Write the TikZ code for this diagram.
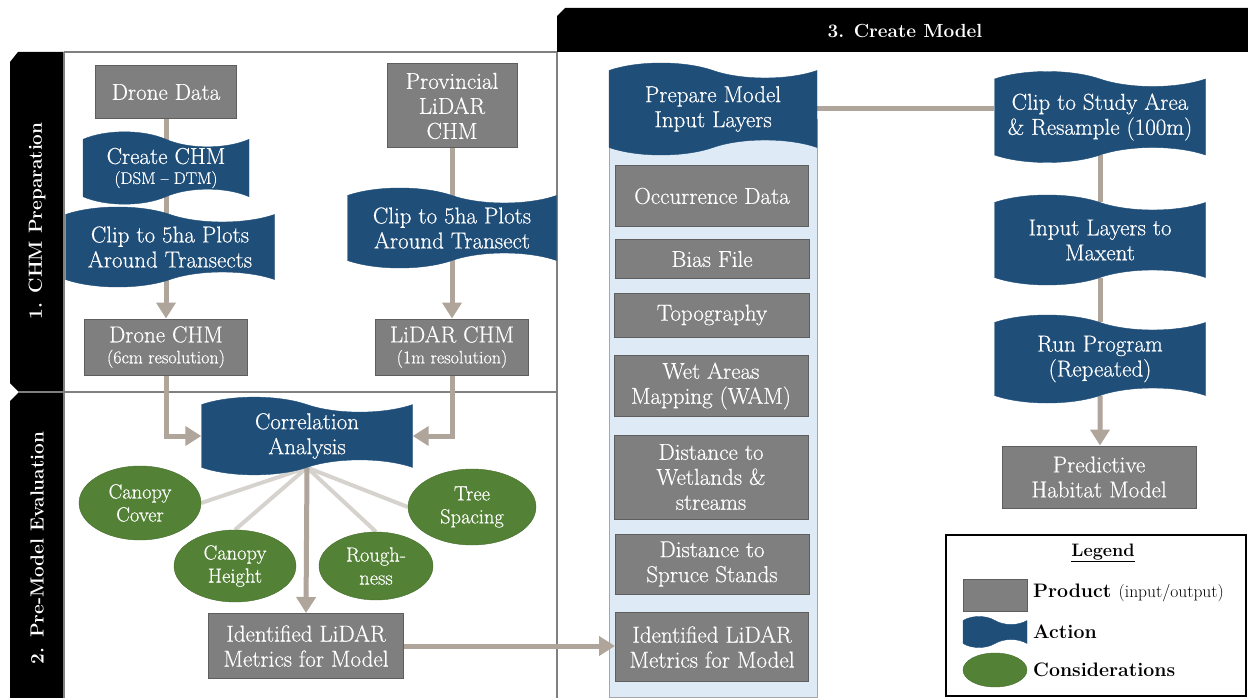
\documentclass[tikz,border=0pt]{standalone}
\usepackage{fontspec}
\newfontfamily\boxserif[FakeBold=0.5,Ligatures=TeX]{Latin Modern Roman}
\usetikzlibrary{positioning,shapes.geometric,shapes.symbols,arrows.meta,backgrounds}
\definecolor{actblue}{HTML}{1F4E79}
\definecolor{prodgray}{HTML}{7F7F7F}
\definecolor{prodedge}{HTML}{5E5E5E}
\definecolor{congreen}{HTML}{538135}
\definecolor{flowtan}{HTML}{AFA59B}
\definecolor{spokegray}{HTML}{D6D2CE}
\definecolor{colblue}{HTML}{DEEBF7}
\definecolor{framegray}{HTML}{808080}
\pgfdeclarelayer{frames}
\pgfdeclarelayer{links}
\pgfsetlayers{frames,links,main}

\begin{document}
\begin{tikzpicture}[x=1pt,y=-1pt,
 product/.style={draw=prodedge, line width=1pt, fill=prodgray, text=white,
   align=center, inner sep=1pt, font=\boxserif\fontsize{23}{25}\selectfont},
 action/.style={tape, tape bend top=out and in, tape bend bottom=in and out,
   tape bend height=15pt, fill=actblue, draw=actblue, text=white,
   align=center, inner sep=1pt, font=\boxserif\fontsize{23}{25}\selectfont},
 consider/.style={ellipse, fill=congreen, draw=congreen!85!black, text=white,
   align=center, inner sep=0pt, font=\boxserif\fontsize{20.5}{23}\selectfont},
 flow/.style={draw=flowtan, line width=5pt, -{Triangle[width=19pt,length=16pt]}},
 link/.style={draw=flowtan, line width=5pt},
 spoke/.style={draw=spokegray, line width=4pt},
 tablabel/.style={text=white, font=\bfseries\fontsize{19}{22}\selectfont},
 legtext/.style={anchor=west, inner sep=0pt, font=\bfseries\fontsize{19.5}{23}\selectfont}]
\useasboundingbox (0,0) rectangle (1248,698);

% section frames and tabs
\begin{pgfonlayer}{frames}
\fill (10,62) -- (18,52) -- (64,52) -- (64,391) -- (18,391) -- (10,383) -- cycle;
\fill (10,401) -- (18,393) -- (64,393) -- (64,698) -- (10,698) -- cycle;
\draw[framegray, line width=1.2pt] (64,52) -- (557,52) (18,392) -- (557,392)
  (557,52) -- (557,698) (64,52) -- (64,698);
\fill (557,16) -- (565,8) -- (1248,8) -- (1248,52) -- (557,52) -- cycle;
\filldraw[fill=colblue, draw=framegray!70, line width=1pt] (609,120) rectangle (817,697);
\draw[line width=2.5pt] (946,535) rectangle (1246,696);
\end{pgfonlayer}

\node[tablabel, rotate=90] (tabprep) at (37,221) {1. CHM Preparation};
\node[tablabel, rotate=90] (tabeval) at (37,548) {2. Pre-Model Evaluation};
\node[tablabel] (tabmodel) at (905,31) {3. Create Model};

% 1. CHM preparation
\node[product, minimum width=141pt, minimum height=53pt] (ddata) at (166,92) {Drone Data};
\node[action, minimum width=166pt, minimum height=65pt] (cchm) at (166,168)
  {Create CHM\\[-5pt]{\fontsize{17}{19}\selectfont(DSM – DTM)}};
\node[action, minimum width=209pt, minimum height=80pt] (clipl) at (170,247)
  {Clip to 5ha Plots\\Around Transects};
\node[product, minimum width=163pt, minimum height=56pt] (dchm) at (166,347)
  {Drone CHM\\[-4pt]{\fontsize{18}{20}\selectfont(6cm resolution)}};
\node[product, minimum width=130pt, minimum height=84pt] (plidar) at (452,106)
  {Provincial\\LiDAR\\CHM};
\node[action, minimum width=209pt, minimum height=80pt] (clipr) at (452,228)
  {Clip to 5ha Plots\\Around Transect};
\node[product, minimum width=153pt, minimum height=56pt] (lchm) at (452,347)
  {LiDAR CHM\\[-4pt]{\fontsize{18}{20}\selectfont(1m resolution)}};

% 2. pre-model evaluation
\node[action, minimum width=211pt, minimum height=65pt] (corr) at (307,436)
  {Correlation\\Analysis};
\node[consider, minimum width=122pt, minimum height=74pt] (ccover) at (140,503)
  {Canopy\\Cover};
\node[consider, minimum width=122pt, minimum height=72pt] (cheight) at (235,566)
  {Canopy\\Height};
\node[consider, minimum width=114pt, minimum height=68pt] (rough) at (376,566)
  {Rough-\\ness};
\node[consider, minimum width=128pt, minimum height=76pt] (tspace) at (472,507)
  {Tree\\Spacing};
\node[product, minimum width=195pt, minimum height=65pt] (idl) at (306,646)
  {Identified LiDAR\\Metrics for Model};

% 3. create model
\node[action, minimum width=208pt, minimum height=92pt] (prep) at (713,109)
  {Prepare Model\\Input Layers};
\node[product, minimum width=193pt, minimum height=60pt] (occ) at (712,196) {Occurrence Data};
\node[product, minimum width=194pt, minimum height=39pt] (bias) at (712,259) {Bias File};
\node[product, minimum width=195pt, minimum height=44pt] (topo) at (712,315) {Topography};
\node[product, minimum width=194pt, minimum height=61pt] (wam) at (711,386)
  {Wet Areas\\Mapping (WAM)};
\node[product, minimum width=194pt, minimum height=84pt] (dwet) at (711,477)
  {Distance to\\Wetlands \&\\streams};
\node[product, minimum width=194pt, minimum height=60pt] (dspr) at (712,564)
  {Distance to\\Spruce Stands};
\node[product, minimum width=193pt, minimum height=69pt] (idr) at (712,647)
  {Identified LiDAR\\Metrics for Model};
\node[action, minimum width=211pt, minimum height=91pt] (clipsa) at (1100,117)
  {Clip to Study Area\\\& Resample (100m)};
\node[action, minimum width=211pt, minimum height=90pt] (maxent) at (1100,240)
  {Input Layers to\\Maxent};
\node[action, minimum width=211pt, minimum height=88pt] (run) at (1100,359)
  {Run Program\\(Repeated)};
\node[product, minimum width=194pt, minimum height=62pt] (pred) at (1099,477)
  {Predictive\\Habitat Model};

% legend
\node[font=\bfseries\fontsize{18}{22}\selectfont] (leghead) at (1103,553) {\underline{Legend}};
\node[product, minimum width=64pt, minimum height=32pt] (legprod) at (995,595) {};
\node[action, tape bend height=8pt, minimum width=64pt, minimum height=31pt] (legact) at (995,632) {};
\node[consider, minimum width=64pt, minimum height=34pt] (legcons) at (995,670) {};
\node[legtext] at (1033,593) {Product {\mdseries\fontsize{17.5}{20}\selectfont(input/output)}};
\node[legtext] at (1033,632) {Action};
\node[legtext] at (1033,670) {Considerations};

% connectors
\begin{pgfonlayer}{links}
\draw[flow] (ddata) -- (dchm.north);
\draw[flow] (plidar) -- (lchm.north);
\draw[flow] (dchm.south) |- (corr.west);
\draw[flow] (lchm.south) |- (corr.east);
\draw[spoke] (corr.south) -- (ccover.east);
\draw[spoke] (corr.south) -- (cheight.north);
\draw[spoke] (corr.south) -- (rough.north);
\draw[spoke] (corr.south) -- (tspace.west);
\draw[flow] (corr.south) -- (idl.north);
\draw[flow] (idl.east) -- (idl.east -| idr.west);
\draw[link] (prep.east) -- (prep.east -| clipsa.west);
\draw[link] (clipsa) -- (maxent);
\draw[link] (maxent) -- (run);
\draw[flow] (run) -- (run |- pred.north);
\end{pgfonlayer}
\end{tikzpicture}
\end{document}
